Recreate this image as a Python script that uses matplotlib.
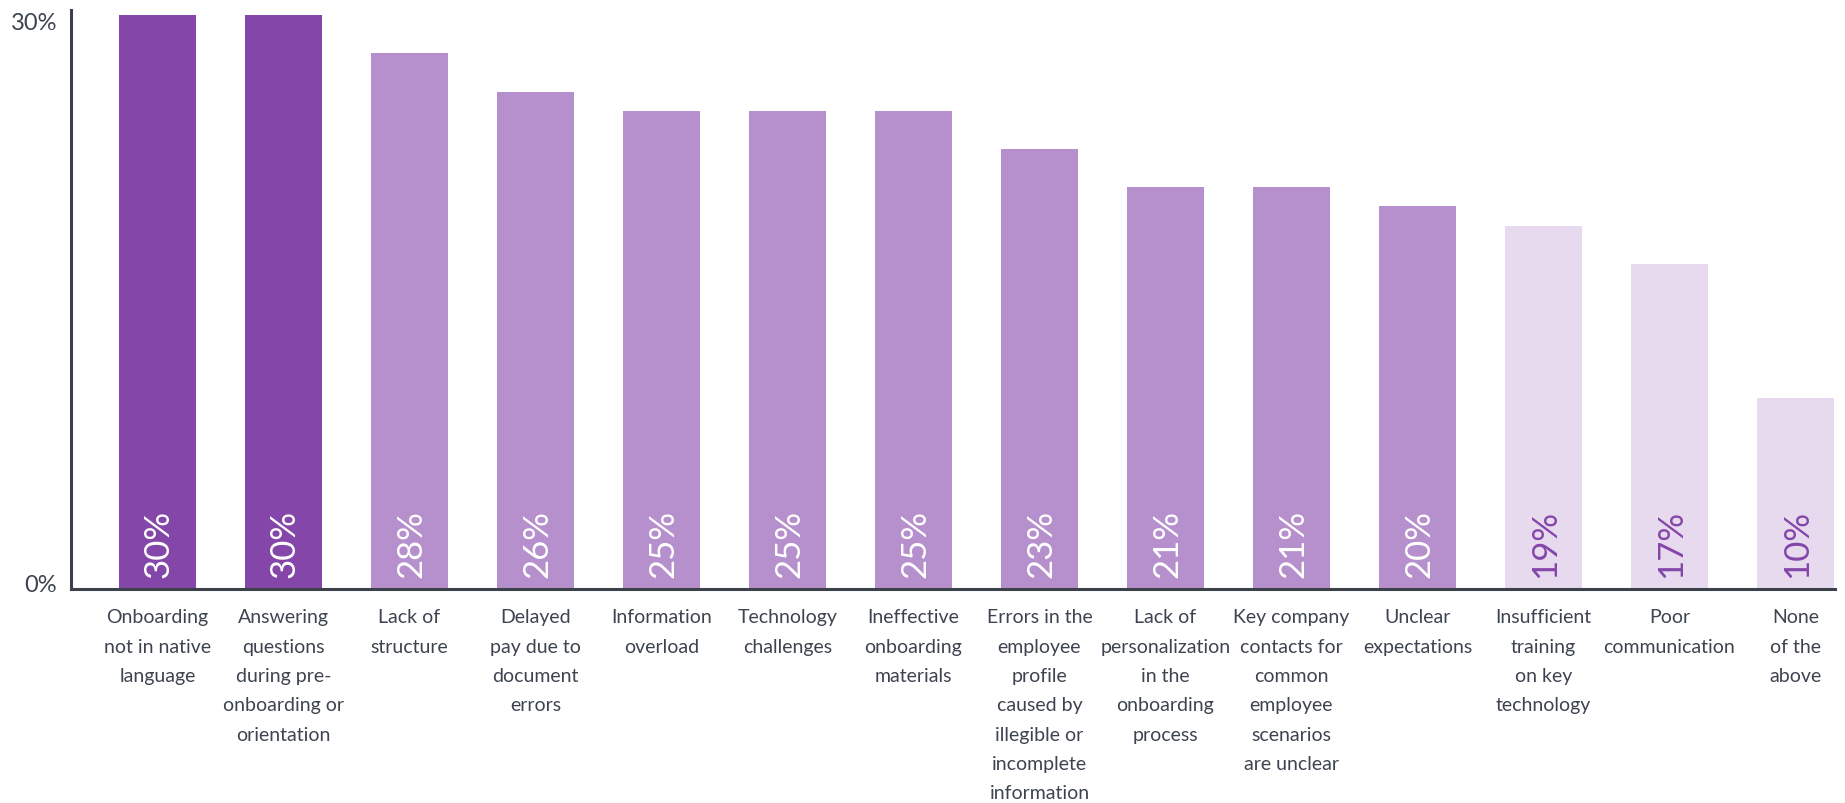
import matplotlib
matplotlib.use("Agg")
import matplotlib.pyplot as plt
import matplotlib.transforms as mtransforms
import numpy as np

# Survey results: biggest onboarding challenges (share of respondents)
categories = [
    "Onboarding\nnot in native\nlanguage",
    "Answering\nquestions\nduring pre-\nonboarding or\norientation",
    "Lack of\nstructure",
    "Delayed\npay due to\ndocument\nerrors",
    "Information\noverload",
    "Technology\nchallenges",
    "Ineffective\nonboarding\nmaterials",
    "Errors in the\nemployee\nprofile\ncaused by\nillegible or\nincomplete\ninformation",
    "Lack of\npersonalization\nin the\nonboarding\nprocess",
    "Key company\ncontacts for\ncommon\nemployee\nscenarios\nare unclear",
    "Unclear\nexpectations",
    "Insufficient\ntraining\non key\ntechnology",
    "Poor\ncommunication",
    "None\nof the\nabove",
]
values = [30, 30, 28, 26, 25, 25, 25, 23, 21, 21, 20, 19, 17, 10]
tiers = [0, 0, 1, 1, 1, 1, 1, 1, 1, 1, 1, 2, 2, 2]
yticks = [0, 30]
ytick_labels = ["0%", "30%"]

tier_colors = ["#8446A9", "#B690CC", "#E7DAEE"]
tier_text = ["#FFFFFF", "#FFFFFF", "#8446A9"]
axis_color = "#3B424C"
text_color = "#3D4450"

plt.rcParams["font.family"] = ["Lato", "DejaVu Sans"]

fig = plt.figure(figsize=(18.45, 8.04), dpi=100)
ax = fig.add_axes([71 / 1845, 214 / 804, 1764 / 1845, 579 / 804])

x = np.arange(len(values))
ax.bar(x, values, width=0.611, linewidth=0,
       color=[tier_colors[t] for t in tiers], zorder=2)

for xi, v, t in zip(x, values, tiers):
    ax.annotate(f"{v}%", xy=(xi, 0), xytext=(1.5, 12),
                textcoords="offset pixels", rotation=90,
                ha="center", va="bottom", fontsize=25,
                fontweight="normal", color=tier_text[t], zorder=3)

ax.set_xlim(-0.6865, 13.3135)
ax.set_ylim(0, 30.27)

ax.set_yticks(yticks)
ax.set_yticklabels(ytick_labels)
ax.set_xticks(x)
ax.set_xticklabels(categories)

ax.tick_params(axis="y", length=0, pad=10, labelsize=17, labelcolor=text_color)
ax.tick_params(axis="x", length=0, pad=14, labelsize=14, labelcolor=text_color)
for lbl in ax.get_xticklabels():
    lbl.set_linespacing(1.88)
    lbl.set_verticalalignment("top")

# nudge the two y labels: bottom one sits just above the baseline,
# top one slightly below the axis end
shifts = [6 / 100, -5 / 100]
for tick, dy in zip(ax.yaxis.get_major_ticks(), shifts):
    off = mtransforms.ScaledTranslation(0, dy, fig.dpi_scale_trans)
    tick.label1.set_transform(tick.label1.get_transform() + off)

for side in ("top", "right"):
    ax.spines[side].set_visible(False)
for side in ("left", "bottom"):
    ax.spines[side].set_color(axis_color)
    ax.spines[side].set_linewidth(2.2)
    ax.spines[side].set_zorder(4)

fig.savefig("out.png", dpi=100, facecolor="white")
